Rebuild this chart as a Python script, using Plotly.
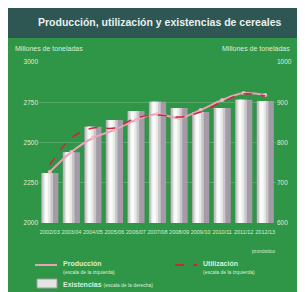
import plotly.graph_objects as go

categories = ["2002/03", "2003/04", "2004/05", "2005/06", "2006/07", "2007/08",
              "2008/09", "2009/10", "2010/11", "2011/12", "2012/13"]
produccion = [2317, 2441, 2528, 2578, 2640, 2677, 2652, 2702, 2764, 2807, 2795]
utilizacion = [2360, 2528, 2590, 2590, 2652, 2671, 2658, 2689, 2752, 2801, 2789]
existencias = [724, 776, 839, 856, 878, 901, 886, 876, 886, 906, 903]
left_ticks = [2000, 2250, 2500, 2750, 3000]
right_ticks = [600, 700, 800, 900, 1000]

GREEN = "#2f9647"
TXT = "#d9efd9"
FONT = "Liberation Sans"
PROD_C = "#e7a3b6"
UTIL_C = "#c8283e"

# page has an 8px body margin; figure is sized so that it fills the window.
# plot area (page pixels): x 39..275.75, y 62..223
def px(x):
    return (x - 39) / 236.75

def py(y):
    return (223 - y) / 161

fig = go.Figure()

# cylinder-like bars: base + highlight bands (overlay)
fig.add_trace(go.Bar(x=categories, y=existencias, width=0.8, marker_color="#a39ba6",
                     marker_line_width=0, name="Existencias", yaxis="y"))
fig.add_trace(go.Bar(x=categories, y=existencias, width=0.52, offset=-0.37, marker_color="#cbc5cc",
                     marker_line_width=0, yaxis="y"))
fig.add_trace(go.Bar(x=categories, y=existencias, width=0.32, offset=-0.29, marker_color="#e8eae8",
                     marker_line_width=0, yaxis="y"))
fig.add_trace(go.Bar(x=categories, y=existencias, width=0.15, offset=-0.23, marker_color="#f8fcf7",
                     marker_line_width=0, yaxis="y"))

fig.add_trace(go.Scatter(x=categories, y=produccion, mode="lines+markers",
                         line=dict(color=PROD_C, width=2, shape="spline"),
                         marker=dict(size=4, color="#f0b8c8"),
                         name="Producción", yaxis="y2"))
fig.add_trace(go.Scatter(x=categories, y=utilizacion, mode="lines",
                         line=dict(color=UTIL_C, width=1.5, dash="dash", shape="spline"),
                         name="Utilización", yaxis="y2"))

legend_shapes = [
    dict(type="line", xref="paper", yref="paper", x0=px(35), x1=px(57), y0=py(265), y1=py(265),
         line=dict(color=PROD_C, width=2)),
    dict(type="line", xref="paper", yref="paper", x0=px(175), x1=px(197), y0=py(265), y1=py(265),
         line=dict(color=UTIL_C, width=2, dash="dash")),
    dict(type="rect", xref="paper", yref="paper", x0=px(37), x1=px(57), y0=py(288), y1=py(279),
         fillcolor="#e2e4e2", line=dict(color="#a39ba6", width=1)),
]

def txt(t, x, y, size, bold=False, anchor="left"):
    return dict(text=("<b>%s</b>" % t) if bold else t, xref="paper", yref="paper", x=px(x), y=py(y),
                xanchor=anchor, yanchor="middle", showarrow=False,
                font=dict(size=size, color=TXT, family=FONT))

fig.update_layout(
    width=297, height=284,
    margin=dict(l=31, r=29.25, t=54, b=69, autoexpand=False),
    paper_bgcolor="white",
    plot_bgcolor="rgba(0,0,0,0)",
    barmode="overlay",
    showlegend=False,
    font=dict(family=FONT, color=TXT, size=6),
    xaxis=dict(type="category", tickvals=categories, ticktext=categories, tickangle=0,
               showgrid=False, zeroline=False, showline=False, ticks="",
               ticklabelstandoff=4,
               tickfont=dict(size=5.5, color=TXT), range=[-0.5, 10.5]),
    yaxis=dict(side="right", range=[600, 1000], tickvals=right_ticks,
               showgrid=True, gridcolor="rgba(255,255,255,0.18)", gridwidth=1,
               zeroline=False, showline=False, tickfont=dict(size=6.5, color=TXT)),
    yaxis2=dict(side="left", overlaying="y", range=[2000, 3000], tickvals=left_ticks,
                showgrid=False, zeroline=False, showline=False,
                tickfont=dict(size=6.5, color=TXT)),
    shapes=[
        dict(type="rect", xref="paper", yref="paper", x0=px(5), x1=px(310), y0=py(300), y1=py(6),
             fillcolor=GREEN, line_width=0, layer="below"),
        dict(type="rect", xref="paper", yref="paper", x0=px(5), x1=px(310), y0=py(38), y1=py(6),
             fillcolor="#2e5753", line_width=0, layer="below"),
    ] + legend_shapes,
    annotations=[
        dict(text="<b>Producción, utilización y existencias de cereales</b>", xref="paper", yref="paper",
             x=px(160), y=py(22), xanchor="center", yanchor="middle", showarrow=False,
             font=dict(size=10.5, color="#e8f0ee", family=FONT)),
        txt("Millones de toneladas", 13, 48, 7),
        txt("Millones de toneladas", 292, 48, 7, anchor="right"),
        txt("pronóstico", 277, 251, 5, anchor="right"),
        txt("Producción", 61, 263, 7, bold=True),
        txt("(escala de la izquierda)", 61, 272, 5),
        txt("Utilización", 201, 263, 7, bold=True),
        txt("(escala de la izquierda)", 201, 272, 5),
        txt("<b>Existencias</b> <span style='font-size:5px'>(escala de la derecha)</span>", 61, 284, 7),
    ],
)

fig.write_html("out.html")
